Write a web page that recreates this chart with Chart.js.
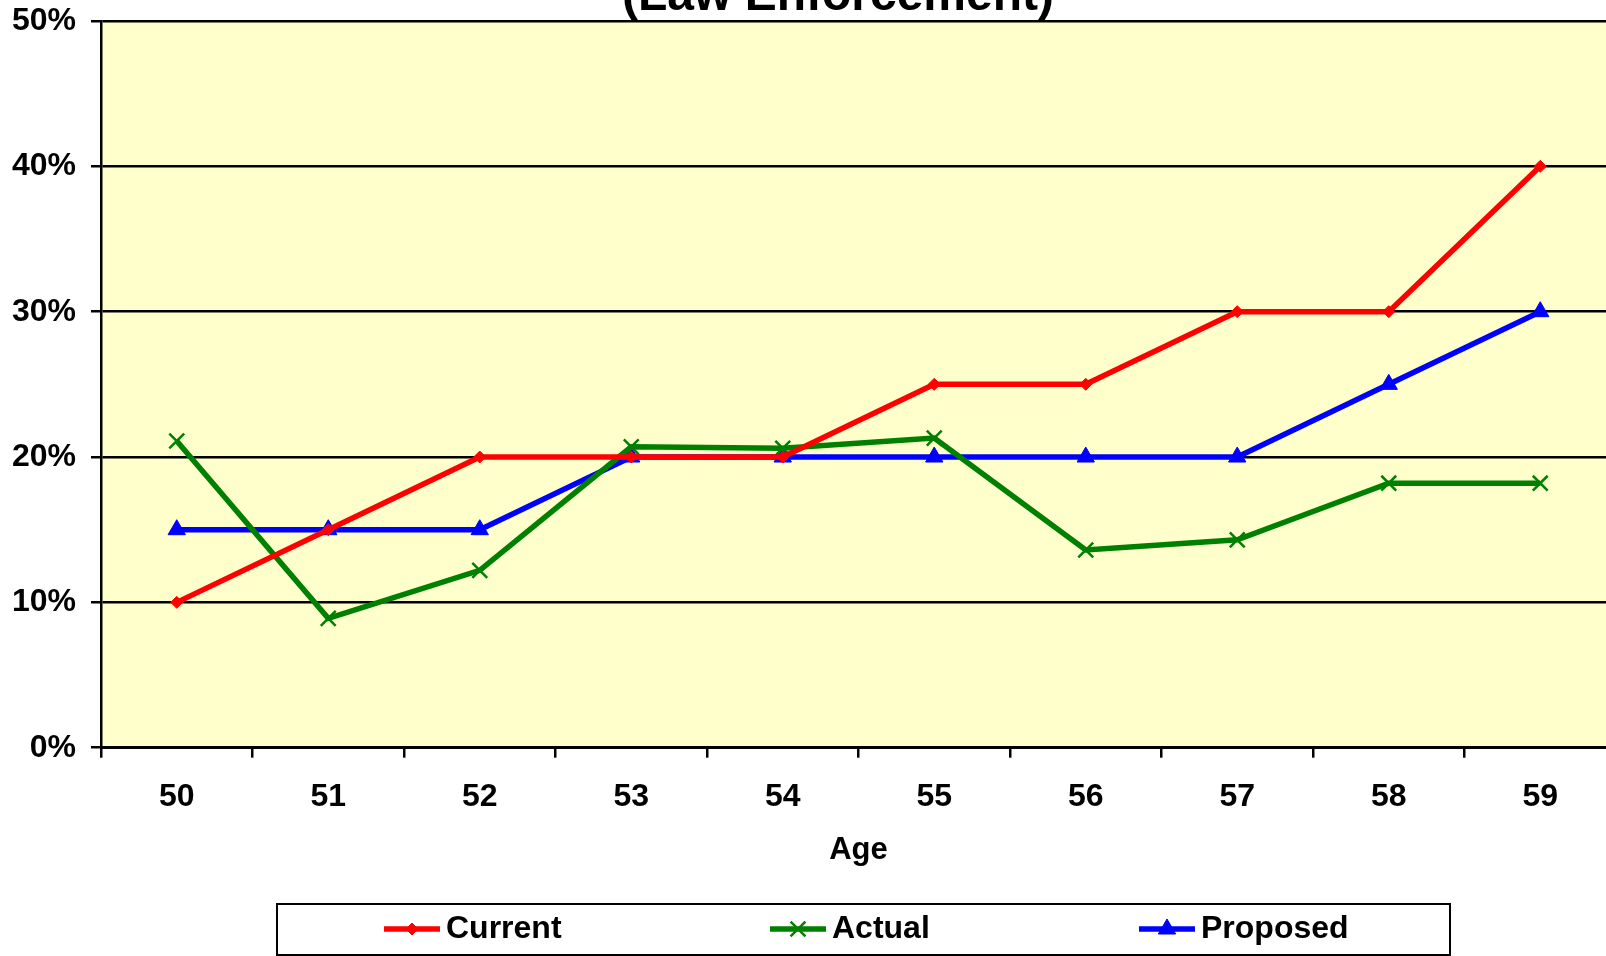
<!DOCTYPE html>
<html>
<head>
<meta charset="utf-8">
<script src="https://cdn.jsdelivr.net/npm/chart.js@4.4.1/dist/chart.umd.min.js"></script>
<style>
    html, body { margin: 0; padding: 0; background: #fff; overflow: hidden; width: 1606px; height: 956px; }
    #wrap { position: absolute; left: 0; top: -27px; width: 1629px; height: 983px; }
</style>
</head>
<body>
<div id="wrap"><canvas id="chart"></canvas></div>
<script>
    // Data
    const ages = ['50', '51', '52', '53', '54', '55', '56', '57', '58', '59'];
    const current = [10, 15, 20, 20, 20, 25, 25, 30, 30, 40];
    const actual = [21.1, 8.9, 12.2, 20.7, 20.6, 21.3, 13.6, 14.3, 18.2, 18.2];
    const proposed = [15, 15, 15, 20, 20, 20, 20, 20, 25, 30];
    const yTicks = [0, 10, 20, 30, 40, 50];
    const titleText = '(Law Enforcement)';

    const SHIFT = 27;
    const FONT = "'Liberation Sans', Arial, sans-serif";

    // yellow plot background
    const plotBg = {
        id: 'plotBg',
        beforeDraw(chart) {
            const { ctx, chartArea: a } = chart;
            ctx.save();
            ctx.fillStyle = '#ffffcc';
            ctx.fillRect(a.left, a.top, a.right - a.left, a.bottom - a.top);
            ctx.restore();
        }
    };

    // title sits off-centre in the original (the chart is cropped on the right)
    const topTitle = {
        id: 'topTitle',
        afterDraw(chart) {
            const ctx = chart.ctx;
            ctx.save();
            ctx.fillStyle = '#000';
            ctx.font = 'bold 48px ' + FONT;
            ctx.textAlign = 'center';
            ctx.textBaseline = 'middle';
            ctx.fillText(titleText, 838, 24);
            ctx.restore();
        }
    };

    // boxed legend below the chart
    const boxLegend = {
        id: 'boxLegend',
        afterDraw(chart) {
            const ctx = chart.ctx;
            const y = 929 + SHIFT;
            const starts = [384, 770, 1139];
            ctx.save();
            ctx.strokeStyle = '#000';
            ctx.lineWidth = 2;
            ctx.strokeRect(277, 904 + SHIFT, 1173, 51);
            chart.data.datasets.forEach((ds, i) => {
                const x = starts[i];
                ctx.strokeStyle = ds.borderColor;
                ctx.lineWidth = ds.borderWidth;
                ctx.beginPath();
                ctx.moveTo(x, y);
                ctx.lineTo(x + 56, y);
                ctx.stroke();
                ctx.fillStyle = ds.pointBackgroundColor;
                ctx.strokeStyle = ds.pointBorderColor;
                ctx.lineWidth = ds.pointBorderWidth;
                if (Chart.helpers && Chart.helpers.drawPoint) {
                    Chart.helpers.drawPoint(ctx, { pointStyle: ds.pointStyle, radius: ds.pointRadius, rotation: 0, borderWidth: ds.pointBorderWidth }, x + 28, y);
                }
                ctx.fillStyle = '#000';
                ctx.font = 'bold 32px ' + FONT;
                ctx.textBaseline = 'middle';
                ctx.textAlign = 'left';
                ctx.fillText(ds.label, x + 62, y);
            });
            ctx.restore();
        }
    };

    function lineSet(label, data, color, style, radius, bw) {
        return {
            label, data,
            borderColor: color,
            backgroundColor: color,
            borderWidth: 5.5,
            pointStyle: style,
            pointRadius: radius,
            pointHoverRadius: radius,
            pointBackgroundColor: color,
            pointBorderColor: color,
            pointBorderWidth: bw,
            tension: 0
        };
    }

    new Chart(document.getElementById('chart'), {
        type: 'line',
        data: {
            labels: ages,
            datasets: [
                lineSet('Current', current, '#ff0000', 'rectRot', 6, 1),
                lineSet('Actual', actual, '#008000', 'crossRot', 10.5, 2.5),
                lineSet('Proposed', proposed, '#0000ff', 'triangle', 10, 1)
            ]
        },
        options: {
            responsive: true,
            maintainAspectRatio: false,
            animation: false,
            layout: { padding: { left: 0, right: 3, top: 48, bottom: 92 } },
            plugins: {
                legend: { display: false },
                tooltip: { enabled: false },
                title: { display: false }
            },
            scales: {
                x: {
                    offset: true,
                    grid: { offset: true, drawOnChartArea: false, color: '#000', lineWidth: 2.5, tickLength: 10 },
                    border: { display: true, color: '#000', width: 3 },
                    ticks: { color: '#000', padding: 20, font: { family: FONT, size: 32, weight: 'bold' } },
                    title: {
                        display: true, text: 'Age', color: '#000',
                        padding: { top: 0, bottom: 0 },
                        font: { family: FONT, size: 31, weight: 'bold', lineHeight: 0.9 }
                    }
                },
                y: {
                    min: 0,
                    max: 50,
                    afterBuildTicks: axis => { axis.ticks = yTicks.map(v => ({ value: v })); },
                    afterFit: axis => { axis.width = 101; },
                    grid: { color: '#000', lineWidth: 2.5, tickLength: 10 },
                    border: { display: true, color: '#000', width: 2.5 },
                    ticks: {
                        color: '#000', padding: 15,
                        font: { family: FONT, size: 32, weight: 'bold' },
                        callback: v => v + '%'
                    }
                }
            }
        },
        plugins: [plotBg, topTitle, boxLegend]
    });
</script>
</body>
</html>
